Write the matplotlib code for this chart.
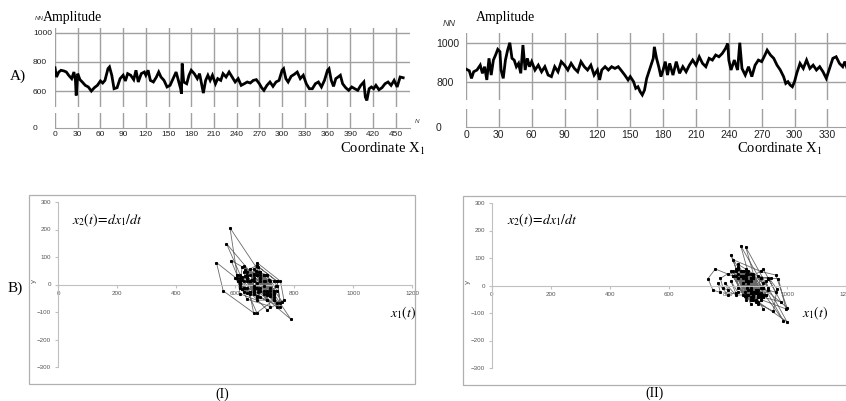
import numpy as np
import matplotlib.pyplot as plt

# amplitude along coordinate X1, first record
x_a = [0, 2, 5, 8, 12, 15, 18, 22, 25, 27, 28, 30, 33, 36, 40, 44, 48, 52, 56, 60,
       63, 66, 70, 72, 75, 78, 82, 86, 90, 93, 96, 100, 104, 107, 110, 114, 118, 120,
       123, 126, 130, 134, 137, 140, 144, 148, 152, 156, 160, 163, 166, 167, 168, 170,
       174, 177, 180, 184, 188, 191, 194, 196, 199, 202, 205, 208, 212, 215, 219, 222,
       226, 230, 234, 238, 242, 246, 250, 254, 258, 262, 266, 270, 273, 276, 280, 284,
       288, 292, 296, 300, 302, 305, 308, 312, 316, 320, 324, 328, 332, 336, 340, 344,
       348, 352, 356, 360, 362, 365, 368, 371, 374, 377, 380, 384, 388, 392, 396, 400,
       404, 408, 410, 412, 415, 418, 421, 424, 428, 432, 436, 440, 444, 448, 452, 456, 460]
amp_a = [760, 697, 731, 743, 738, 731, 709, 686, 731, 674, 571, 720, 679, 663, 640, 629,
         601, 624, 640, 670, 656, 674, 754, 766, 709, 617, 624, 686, 709, 670, 720, 709,
         679, 743, 663, 720, 731, 709, 743, 674, 663, 697, 731, 697, 674, 629, 640, 686,
         731, 674, 617, 583, 789, 663, 651, 709, 743, 720, 686, 720, 640, 587, 674, 709,
         674, 709, 651, 686, 674, 720, 697, 731, 697, 663, 686, 640, 651, 663, 656, 674,
         679, 651, 624, 606, 640, 663, 633, 663, 674, 743, 754, 686, 663, 702, 715, 731,
         686, 709, 651, 617, 617, 651, 663, 629, 674, 743, 754, 674, 633, 686, 697, 709,
         651, 624, 606, 629, 617, 606, 640, 663, 560, 537, 617, 629, 617, 640, 610, 624,
         651, 663, 640, 674, 629, 697, 692]

# amplitude along coordinate X1, second record
x_b = [0, 3, 5, 7, 10, 13, 15, 17, 19, 21, 23, 25, 27, 29, 31, 32, 34, 36, 38, 40, 42,
       44, 46, 48, 50, 52, 54, 56, 58, 60, 63, 66, 69, 72, 75, 78, 81, 84, 87, 90, 93,
       96, 99, 102, 105, 108, 111, 114, 117, 120, 122, 124, 127, 130, 133, 136, 139, 142,
       145, 148, 150, 153, 155, 157, 159, 161, 163, 165, 167, 169, 171, 172, 174, 176,
       178, 180, 182, 184, 186, 189, 192, 195, 198, 201, 204, 207, 210, 213, 216, 219,
       222, 225, 228, 231, 234, 237, 239, 240, 242, 245, 248, 250, 252, 255, 258, 261,
       264, 267, 270, 273, 275, 278, 281, 284, 287, 290, 292, 294, 296, 298, 300, 302,
       305, 308, 311, 314, 317, 320, 323, 326, 329, 332, 335, 338, 341, 344, 346, 348]
amp_b = [865, 856, 817, 851, 860, 885, 843, 877, 809, 920, 834, 911, 937, 966, 954, 860,
         817, 911, 962, 1000, 920, 911, 877, 894, 843, 988, 860, 920, 877, 903, 860, 885,
         851, 877, 834, 826, 877, 851, 903, 885, 860, 894, 868, 851, 903, 877, 860, 885,
         834, 860, 809, 860, 877, 860, 877, 868, 877, 856, 834, 809, 826, 800, 766, 774,
         749, 732, 757, 817, 851, 885, 920, 979, 920, 877, 826, 860, 903, 834, 894, 834,
         903, 843, 877, 851, 885, 911, 885, 928, 894, 877, 920, 911, 937, 928, 945, 971,
         996, 911, 860, 911, 860, 1000, 868, 834, 877, 826, 885, 911, 903, 937, 962, 937,
         920, 885, 860, 826, 791, 800, 783, 774, 800, 843, 894, 868, 911, 868, 885, 860,
         877, 851, 817, 868, 920, 928, 894, 877, 903, 868]

W, H = 846, 401
SERIF = "Liberation Serif"
SANS = "Liberation Sans"
plt.rcParams["mathtext.fontset"] = "stix"


def box(l, t, r, b):
    # pixel box (left, top, right, bottom) -> figure fraction
    return [l / W, 1 - b / H, (r - l) / W, (b - t) / H]


fig = plt.figure(figsize=(W / 100, H / 100), dpi=100)


def amp_panel(x, y, px, split, ylim, xmax, yticks, fs, pad):
    l, t, r, b = px
    up = fig.add_axes(box(l, t, r, split[0]))
    lo = fig.add_axes(box(l, split[1], r, b))
    xt = np.arange(0, xmax, 30)
    for ax in (up, lo):
        ax.set_xlim(0, xmax)
        ax.set_xticks(xt)
        for s in ax.spines.values():
            s.set_visible(False)
        ax.grid(True, axis="x", color="#a0a0a0", lw=1.0)
        ax.tick_params(length=0, labelsize=fs, labelcolor="#222")
        ax.patch.set_alpha(0)
    up.plot(x, y, color="black", lw=2.0, solid_joinstyle="miter")
    up.set_ylim(*ylim)
    up.set_yticks(yticks)
    up.grid(True, axis="y", color="#a0a0a0", lw=1.0)
    up.tick_params(labelbottom=False, pad=pad)
    lo.set_ylim(0, 1)
    lo.set_yticks([0])
    lo.spines["bottom"].set_visible(True)
    lo.spines["bottom"].set_color("#a0a0a0")
    lo.tick_params(axis="y", pad=pad)
    lo.tick_params(axis="x", pad=2)
    for ax in (up, lo):
        for lab in ax.get_yticklabels():
            lab.set_ha("left")
            lab.set_fontfamily(SANS)
        for lab in ax.get_xticklabels():
            lab.set_fontfamily(SANS)


amp_panel(x_a, amp_a, (55, 28, 410, 128), (107, 113), (492, 1032), 469,
          [600, 800, 1000], 6, 15.8)
amp_panel(x_b, amp_b, (466, 33, 846, 127), (100, 109), (706, 1050), 347,
          [800, 1000], 7.5, 21.6)


def ftext(x, y, s, **kw):
    fig.text(x / W, 1 - y / H, s, **kw)


ftext(35, 19, "NN", fontsize=4.5, style="italic", fontfamily=SANS, va="center", color="#333")
ftext(43, 18, "Amplitude", fontsize=10, fontfamily=SERIF, va="center")
ftext(443, 23, "NN", fontsize=6.5, style="italic", fontfamily=SANS, va="center", color="#333")
ftext(476, 18, "Amplitude", fontsize=10, fontfamily=SERIF, va="center")
ftext(415, 122, "N", fontsize=4.5, style="italic", fontfamily=SANS, va="center", color="#333")
ftext(340, 149, "Coordinate X$_1$", fontsize=10.5, fontfamily=SERIF, va="center")
ftext(737, 149, "Coordinate X$_1$", fontsize=10.5, fontfamily=SERIF, va="center")
ftext(10, 76, "A)", fontsize=11, fontfamily=SERIF, va="center")
ftext(8, 288, "B)", fontsize=11, fontfamily=SERIF, va="center")


def phase_panel(series, px, frame, lab_dx, lab_x1, lab_y, caption):
    s = np.asarray(series, dtype=float)
    x1 = s[:-1]
    x2 = np.diff(s)
    fig.add_artist(plt.Rectangle((frame[0] / W, 1 - frame[3] / H),
                                 (frame[2] - frame[0]) / W, (frame[3] - frame[1]) / H,
                                 transform=fig.transFigure, fill=False,
                                 ec="#b0b0b0", lw=0.9))
    ax = fig.add_axes(box(*px))
    ax.patch.set_alpha(0)
    ax.plot(x1, x2, color="#6a6a6a", lw=0.6, zorder=2)
    ax.plot(x1, x2, ls="none", marker="s", ms=1.2, color="black", zorder=3)
    ax.set_xlim(0, 1200)
    ax.set_ylim(-300, 300)
    ax.set_xticks(np.arange(0, 1201, 200))
    ax.set_yticks(np.arange(-300, 301, 100))
    ax.spines["bottom"].set_position(("data", 0))
    ax.spines["top"].set_visible(False)
    ax.spines["right"].set_visible(False)
    for k in ("left", "bottom"):
        ax.spines[k].set_color("#c0c0c0")
        ax.spines[k].set_linewidth(0.8)
    ax.tick_params(labelsize=4.5, labelcolor="#555", length=2, color="#c0c0c0", pad=3)
    for lab in ax.get_xticklabels() + ax.get_yticklabels():
        lab.set_fontfamily(SANS)
    ax.set_ylabel("y", fontsize=5, color="#555", labelpad=1)
    ax.yaxis.set_label_coords(-0.06, 0.52)
    ftext(*lab_dx, r"$x_2(t)\!=\!dx_1/dt$", fontsize=10, va="center")
    ftext(*lab_x1, r"$x_1(t)$", fontsize=10, va="center")
    ftext(*lab_y, caption, fontsize=10, fontfamily=SERIF, ha="center", va="center")


phase_panel(amp_a, (58, 202, 412, 367), (29, 195, 415, 384),
            (72, 220), (390, 313), (222, 394), "(I)")
phase_panel(amp_b, (492, 203, 846, 368), (463, 196, 870, 385),
            (507, 220), (802, 313), (654, 393), "(II)")

fig.savefig("out.png", dpi=100)
